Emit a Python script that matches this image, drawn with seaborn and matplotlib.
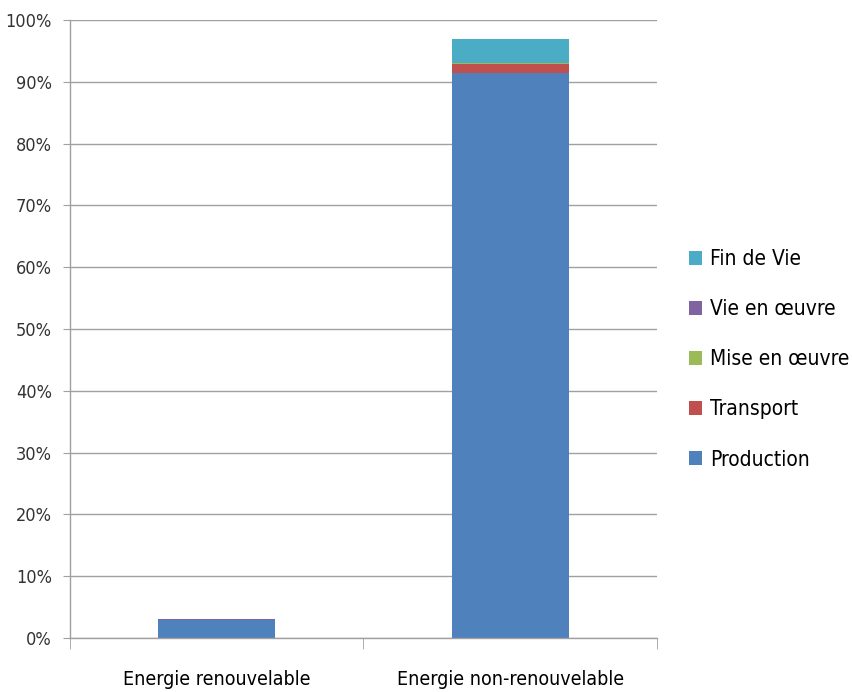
import matplotlib
matplotlib.use("Agg")
import matplotlib.pyplot as plt
import seaborn as sns
import pandas as pd
import numpy as np
from matplotlib.patches import Patch
from matplotlib.ticker import FixedLocator, PercentFormatter
from matplotlib import font_manager as fm

categories = ["Energie renouvelable", "Energie non-renouvelable"]
production = [2.9, 91.4]
transport = [0.03, 1.4]
mise_en_oeuvre = [0.02, 0.2]
vie_en_oeuvre = [0.12, 0.1]
fin_de_vie = [0.03, 3.9]

series_names = ["Production", "Transport", "Mise en œuvre", "Vie en œuvre", "Fin de Vie"]
series_values = [production, transport, mise_en_oeuvre, vie_en_oeuvre, fin_de_vie]
colors = ["#4F81BD", "#C0504D", "#9BBB59", "#8064A2", "#4BACC6"]

sns.set_style("white")

# pick a condensed font file if available
cond_path = None
for f in fm.findSystemFonts():
    low = f.lower()
    if ("liberationsansnarrow-regular" in low) or ("dejavusanscondensed.ttf" in low):
        cond_path = f
        if "liberation" in low:
            break
if cond_path:
    fm.fontManager.addfont(cond_path)
    fam = fm.FontProperties(fname=cond_path).get_name()
    plt.rcParams["font.family"] = [fam, "DejaVu Sans"]
    if "DejaVu" in fam:
        plt.rcParams["font.stretch"] = "condensed"
else:
    plt.rcParams["font.family"] = ["DejaVu Sans"]
    plt.rcParams["font.stretch"] = "condensed"

fig = plt.figure(figsize=(8.53, 6.92), dpi=100)
ax = fig.add_axes([70/853, 54/692, 587/853, 618/692])

bottom = np.zeros(len(categories))
for name, vals, col in zip(series_names, series_values, colors):
    df = pd.DataFrame({"cat": categories, "val": vals})
    sns.barplot(data=df, x="cat", y="val", color=col, bottom=bottom,
                width=0.4, ax=ax, edgecolor="none", linewidth=0, saturation=1)
    bottom = bottom + np.array(vals)

ax.set_xlim(-0.5, 1.5)
ax.set_ylim(0, 100)
ax.set_yticks(np.arange(0, 101, 10))
ax.yaxis.set_major_formatter(PercentFormatter(decimals=0))
ax.yaxis.grid(True, color="#A0A0A0", linewidth=1)
ax.set_axisbelow(True)
ax.set_xlabel("")
ax.set_ylabel("")
for s in ["top", "right"]:
    ax.spines[s].set_visible(False)
for s in ["left", "bottom"]:
    ax.spines[s].set_color("#A0A0A0")
    ax.spines[s].set_linewidth(1)

ax.tick_params(axis="y", which="major", length=5, color="#A0A0A0", labelsize=13,
               labelcolor="#333333", pad=8, left=True)
ax.tick_params(axis="x", which="major", length=0, labelsize=14, pad=23, labelcolor="black")
ax.xaxis.set_minor_locator(FixedLocator([-0.5, 0.5, 1.5]))
ax.tick_params(axis="x", which="minor", length=8, color="#A0A0A0", bottom=True)

handles = [Patch(facecolor=c, edgecolor="none", label=n) for n, c in zip(series_names, colors)]
leg = ax.legend(handles=handles[::-1], loc="center left", bbox_to_anchor=(1.04, 0.451),
                frameon=False, fontsize=15, handlelength=0.65, handleheight=0.65,
                handletextpad=0.35, labelspacing=1.45, borderaxespad=0)
for t in leg.get_texts():
    t.set_color("black")

fig.savefig("out.png", dpi=100)
